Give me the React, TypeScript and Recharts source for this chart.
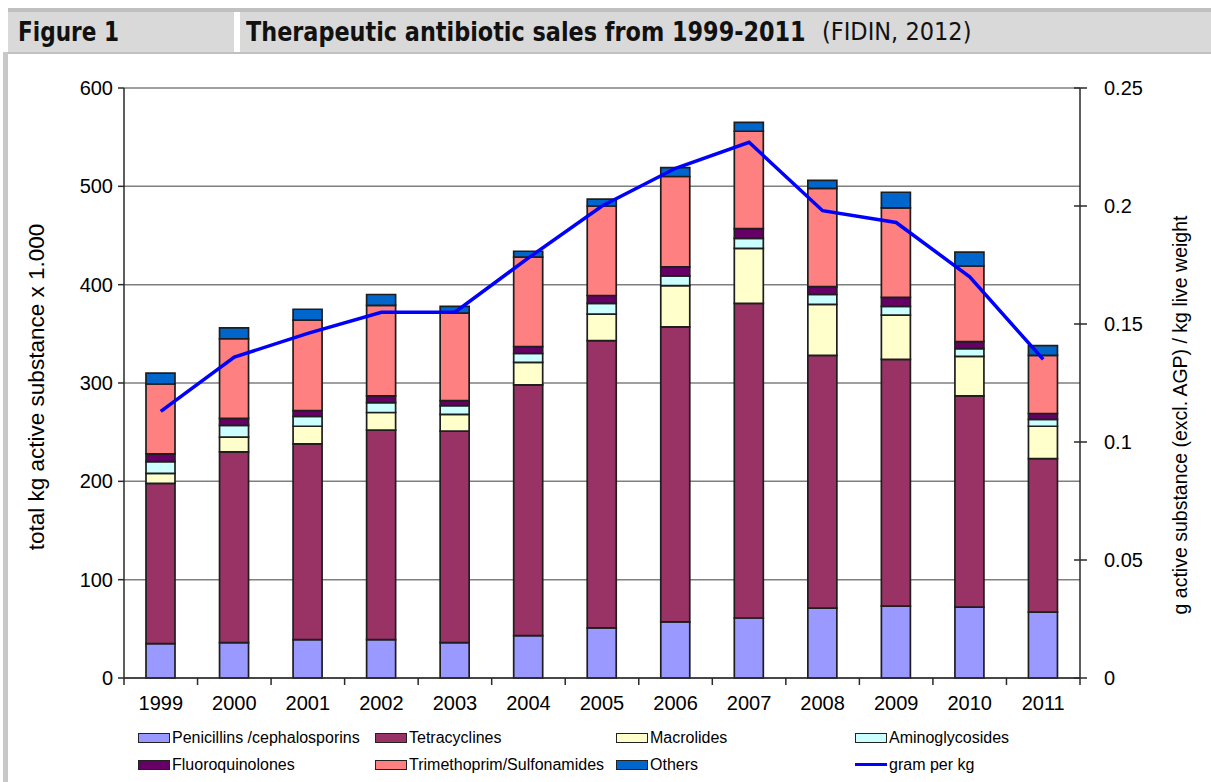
import React from 'react'
import { ComposedChart, Bar, Line, XAxis, YAxis, CartesianGrid } from 'recharts'

const years = ['1999', '2000', '2001', '2002', '2003', '2004', '2005', '2006', '2007', '2008', '2009', '2010', '2011']
const penicillins = [35, 36, 39, 39, 36, 43, 51, 57, 61, 71, 73, 72, 67]
const tetracyclines = [163, 194, 199, 213, 215, 255, 292, 300, 320, 257, 251, 215, 156]
const macrolides = [10, 15, 18, 18, 17, 23, 27, 42, 56, 52, 45, 40, 33]
const aminoglycosides = [12, 12, 10, 10, 9, 9, 11, 10, 10, 10, 9, 8, 7]
const fluoroquinolones = [8, 7, 6, 7, 5, 7, 8, 9, 10, 8, 9, 7, 6]
const trimethoprim = [71, 81, 92, 92, 89, 91, 91, 92, 99, 100, 91, 77, 59]
const others = [11, 11, 11, 11, 7, 6, 7, 9, 9, 8, 16, 14, 10]
const gramPerKg = [0.113, 0.136, 0.146, 0.155, 0.155, 0.178, 0.2, 0.216, 0.227, 0.198, 0.193, 0.17, 0.135]

const leftTicks = [0, 100, 200, 300, 400, 500, 600]
const rightTicks = [0, 0.05, 0.1, 0.15, 0.2, 0.25]

const series = [
  { key: 'pen', name: 'Penicillins /cephalosporins', color: '#9999ff', values: penicillins },
  { key: 'tet', name: 'Tetracyclines', color: '#993366', values: tetracyclines },
  { key: 'mac', name: 'Macrolides', color: '#ffffcc', values: macrolides },
  { key: 'ami', name: 'Aminoglycosides', color: '#ccffff', values: aminoglycosides },
  { key: 'flu', name: 'Fluoroquinolones', color: '#660066', values: fluoroquinolones },
  { key: 'tri', name: 'Trimethoprim/Sulfonamides', color: '#ff8080', values: trimethoprim },
  { key: 'oth', name: 'Others', color: '#0066cc', values: others },
]

const data = years.map((year, i) => {
  const row: Record<string, string | number> = { year, gpk: gramPerKg[i] }
  series.forEach((s) => { row[s.key] = s.values[i] })
  return row
})

// layout
const W = 1211
const H = 782
const PLOT_L = 124
const PLOT_R = 1080
const PLOT_T = 88
const PLOT_B = 678
const BAND = (PLOT_R - PLOT_L) / years.length
const FONT = '"Liberation Sans", Arial, sans-serif'
const HEAD_FONT = '"Liberation Sans Narrow", "DejaVu Sans Condensed", sans-serif'
const AXIS = '#2a2a2a'

const XTick = (props: any) => {
  const { x, payload, index } = props
  const h = BAND / 2
  return (
    <g>
      <line x1={x - h} x2={x - h} y1={PLOT_B} y2={PLOT_B + 7} stroke={AXIS} strokeWidth={1.5} />
      {index === years.length - 1 && (
        <line x1={x + h} x2={x + h} y1={PLOT_B} y2={PLOT_B + 7} stroke={AXIS} strokeWidth={1.5} />
      )}
      <text x={x} y={PLOT_B + 32} textAnchor="middle" fontSize={20} fill="#000" fontFamily={FONT}>
        {payload.value}
      </text>
    </g>
  )
}

const RightTick = (props: any) => {
  const { y, payload } = props
  return (
    <g>
      <line x1={PLOT_R - 6} x2={PLOT_R + 7} y1={y} y2={y} stroke={AXIS} strokeWidth={1.5} />
      <text x={PLOT_R + 24} y={y + 7} textAnchor="start" fontSize={20} fill="#000" fontFamily={FONT}>
        {payload.value}
      </text>
    </g>
  )
}

const AxisTitle = ({ cx, cy, text, size }: { cx: number; cy: number; text: string; size: number }) => (
  <text
    transform={`translate(${cx},${cy}) rotate(-90)`}
    textAnchor="middle"
    dominantBaseline="central"
    fontSize={size}
    fill="#000"
    fontFamily={FONT}
  >
    {text}
  </text>
)

const Swatch = ({ color, line }: { color: string; line?: boolean }) =>
  line ? (
    <span style={{ display: 'inline-block', width: 32, height: 3, background: '#0000ff', marginRight: 2, verticalAlign: 'middle' }} />
  ) : (
    <span
      style={{
        display: 'inline-block', width: 30, height: 8, background: color,
        border: '1.5px solid #222', marginRight: 2, verticalAlign: 'middle',
      }}
    />
  )

const legendCols = [138, 375, 616, 855]
const legendRows = [737, 764]

export default function App() {
  const items = [
    ...series.map((s) => ({ name: s.name, color: s.color, line: false })),
    { name: 'gram per kg', color: '#0000ff', line: true },
  ]
  return (
    <div style={{ position: 'absolute', left: 0, top: 0, width: W, height: H, background: '#fff', overflow: 'hidden' }}>
      {/* page strip + header band */}
      <div style={{ position: 'absolute', left: 3, top: 52, width: 5, height: H - 52, background: '#c8c8c8' }} />
      <div style={{ position: 'absolute', left: 8, top: 8, width: W - 8, height: 4, background: '#c0c0c0' }} />
      <div style={{ position: 'absolute', left: 8, top: 12, width: 226, height: 40, background: '#d9d9d9' }} />
      <div style={{ position: 'absolute', left: 240, top: 12, width: W - 240, height: 40, background: '#d9d9d9' }} />
      <div style={{ position: 'absolute', left: 8, top: 52, width: W - 8, height: 2, background: '#c0c0c0' }} />
      <div
        style={{
          position: 'absolute', left: 18, top: 12, height: 40, lineHeight: '40px', whiteSpace: 'nowrap',
          fontFamily: HEAD_FONT, fontWeight: 'bold', fontSize: 27, color: '#111',
          transform: 'scaleX(0.89)', transformOrigin: 'left center',
        }}
      >
        Figure 1
      </div>
      <div
        style={{
          position: 'absolute', left: 246, top: 12, height: 40, lineHeight: '40px', whiteSpace: 'nowrap',
          fontFamily: HEAD_FONT, fontWeight: 'bold', fontSize: 27, color: '#111',
          transform: 'scaleX(0.92)', transformOrigin: 'left center',
        }}
      >
        Therapeutic antibiotic sales from 1999-2011
      </div>
      <div
        style={{
          position: 'absolute', left: 822, top: 12, height: 40, lineHeight: '40px', whiteSpace: 'nowrap',
          fontFamily: HEAD_FONT, fontSize: 25, color: '#111',
        }}
      >
        (FIDIN, 2012)
      </div>

      <div style={{ position: 'absolute', left: 0, top: 0 }}>
        <ComposedChart
          width={W}
          height={H}
          data={data}
          margin={{ top: PLOT_T, right: W - PLOT_R - 110, bottom: H - PLOT_B - 30, left: PLOT_L - 100 }}
          barSize={29}
        >
          <CartesianGrid yAxisId="left" vertical={false} stroke="#7f7f7f" strokeWidth={1.5} />
          <XAxis
            dataKey="year"
            height={30}
            tick={<XTick />}
            tickLine={false}
            axisLine={{ stroke: AXIS, strokeWidth: 1.5 }}
            interval={0}
          />
          <YAxis
            yAxisId="left"
            width={100}
            domain={[0, 600]}
            ticks={leftTicks}
            tick={{ fontSize: 20, fill: '#000', fontFamily: FONT }}
            tickSize={6}
            tickMargin={5}
            tickLine={{ stroke: AXIS, strokeWidth: 1.5 }}
            axisLine={{ stroke: AXIS, strokeWidth: 1.5 }}
            label={<AxisTitle cx={36} cy={387} size={22.5} text="total kg active substance x 1.000" />}
          />
          <YAxis
            yAxisId="right"
            orientation="right"
            width={110}
            domain={[0, 0.25]}
            ticks={rightTicks}
            tick={<RightTick />}
            tickLine={false}
            axisLine={{ stroke: AXIS, strokeWidth: 1.5 }}
            label={<AxisTitle cx={1180} cy={415} size={19.5} text="g active substance (excl. AGP) / kg live weight" />}
          />
          {series.map((s) => (
            <Bar
              key={s.key}
              yAxisId="left"
              dataKey={s.key}
              name={s.name}
              stackId="a"
              fill={s.color}
              stroke="#1e1e1e"
              strokeWidth={1.7}
              isAnimationActive={false}
            />
          ))}
          <Line
            yAxisId="right"
            dataKey="gpk"
            name="gram per kg"
            type="linear"
            stroke="#0000ff"
            strokeWidth={3.5}
            dot={false}
            activeDot={false}
            isAnimationActive={false}
          />
        </ComposedChart>
      </div>

      {items.map((it, i) => (
        <div
          key={it.name}
          style={{
            position: 'absolute',
            left: legendCols[i % 4],
            top: legendRows[Math.floor(i / 4)] - 10,
            height: 20,
            lineHeight: '20px',
            whiteSpace: 'nowrap',
            fontFamily: FONT,
            fontSize: 16,
            color: '#000',
          }}
        >
          <Swatch color={it.color} line={it.line} />
          <span style={{ verticalAlign: 'middle' }}>{it.name}</span>
        </div>
      ))}
    </div>
  )
}
